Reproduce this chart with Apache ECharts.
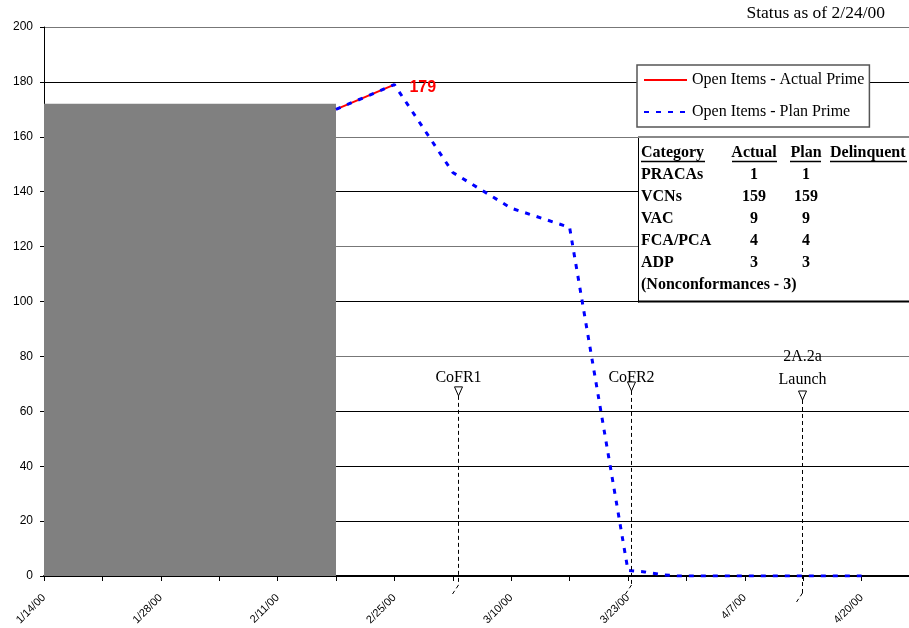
<!DOCTYPE html>
<html>
<head>
<meta charset="utf-8">
<script src="https://cdn.jsdelivr.net/npm/echarts@6/dist/echarts.min.js"></script>
<style>
  html, body { margin: 0; padding: 0; background: #fff; }
  #chart { width: 909px; height: 628px; }
</style>
</head>
<body>
<div id="chart"></div>
<script>
// Horizontal axis counts days from 1/14/00, one tick per week
const tickLabels = ['1/14/00', '', '1/28/00', '', '2/11/00', '', '2/25/00', '', '3/10/00', '', '3/23/00', '', '4/7/00', '', '4/20/00'];

// Open items, actual vs plan (day, count)
const actualDays = [35, 42];
const actualValues = [170, 179];
const planDays = [35, 42, 49, 56, 63, 70, 72, 74, 76, 98];
const planValues = [170, 179, 147, 134, 127, 2, 1.5, 0.5, 0, 0];

// Shaded history block
const shadedDays = [0, 35];
const shadedTop = 172;

// Milestones: day, marker top value, label bottom value
const milestoneNames = ['CoFR1', 'CoFR2', '2A.2a\nLaunch'];
const milestoneDays = [49.6, 70.3, 90.9];
const milestoneMarkerValues = [68.9, 70.7, 67.4];
const milestoneLabelValues = [67.9, 67.9, 67.2];
const milestoneTails = [9, 9, 17];

// Status table
const tableHeader = ['Category', 'Actual', 'Plan', 'Delinquent'];
const tableCategories = ['PRACAs', 'VCNs', 'VAC', 'FCA/PCA', 'ADP'];
const tableActual = [1, 159, 9, 4, 3];
const tablePlan = [1, 159, 9, 4, 3];
const tableNote = '(Nonconformances - 3)';
const statusText = 'Status as of 2/24/00';

const seriesActual = 'Open Items - Actual Prime';
const seriesPlan = 'Open Items - Plan Prime';

const serif = '"Liberation Serif", "Times New Roman", serif';
const sans = '"Liberation Sans", Arial, sans-serif';

// Gridline colours for 0, 20, ... 200
const gridColors = ['#000', '#000', '#000', '#000', '#777', '#000', '#777', '#000', '#777', '#000', '#777'];

const actualData = actualDays.map((d, i) => {
  const item = { value: [d, actualValues[i]] };
  if (i === actualDays.length - 1) {
    item.label = {
      show: true, position: 'right', distance: 15, offset: [0, 3],
      color: '#ff0000', fontWeight: 'bold', fontSize: 16, fontFamily: sans,
      formatter: p => String(p.value[1])
    };
  }
  return item;
});
const planData = planDays.map((d, i) => [d, planValues[i]]);
const milestoneData = milestoneDays.map((d, i) => [d, milestoneMarkerValues[i], milestoneLabelValues[i]]);

// Table graphic elements
function buildTable() {
  const els = [];
  const left = 638, top = 137.5, bottom = 301.5;
  els.push({ type: 'rect', shape: { x: left, y: top, width: 290, height: bottom - top }, style: { fill: '#fff' }, z: 100 });
  els.push({ type: 'line', shape: { x1: left + 0.5, y1: top - 1, x2: left + 0.5, y2: bottom + 1 }, style: { stroke: '#000', lineWidth: 1 }, z: 101 });
  els.push({ type: 'line', shape: { x1: left, y1: bottom, x2: 909, y2: bottom }, style: { stroke: '#000', lineWidth: 2 }, z: 101 });
  els.push({ type: 'line', shape: { x1: left, y1: top - 0.5, x2: 909, y2: top - 0.5 }, style: { stroke: '#888', lineWidth: 2 }, z: 101 });
  const font = 'bold 16px ' + serif;
  const colX = [641, 754, 806, 830];
  const colAlign = ['left', 'center', 'center', 'left'];
  const headerY = 153;
  tableHeader.forEach((t, c) => {
    els.push({ type: 'text', x: colX[c], y: headerY, style: { text: t, font, fill: '#000', align: colAlign[c], verticalAlign: 'middle' }, z: 102 });
  });
  // header underlines
  [[641, 705], [732, 777], [790, 821], [830, 907]].forEach(([a, b]) => {
    els.push({ type: 'line', shape: { x1: a, y1: 161.5, x2: b, y2: 161.5 }, style: { stroke: '#000', lineWidth: 1.5 }, z: 102 });
  });
  const rowStep = 21.9;
  tableCategories.forEach((cat, r) => {
    const y = headerY + rowStep * (r + 1);
    els.push({ type: 'text', x: colX[0], y, style: { text: cat, font, fill: '#000', align: 'left', verticalAlign: 'middle' }, z: 102 });
    els.push({ type: 'text', x: colX[1], y, style: { text: String(tableActual[r]), font, fill: '#000', align: 'center', verticalAlign: 'middle' }, z: 102 });
    els.push({ type: 'text', x: colX[2], y, style: { text: String(tablePlan[r]), font, fill: '#000', align: 'center', verticalAlign: 'middle' }, z: 102 });
  });
  els.push({ type: 'text', x: colX[0], y: headerY + rowStep * (tableCategories.length + 1), style: { text: tableNote, font, fill: '#000', align: 'left', verticalAlign: 'middle' }, z: 102 });
  els.push({ type: 'text', x: 885, y: 13, style: { text: statusText, font: '17.5px ' + serif, fill: '#000', align: 'right', verticalAlign: 'middle' }, z: 102 });
  return els;
}

const chart = echarts.init(document.getElementById('chart'), null, { renderer: 'canvas' });

chart.setOption({
  animation: false,
  backgroundColor: '#fff',
  grid: { left: 44, width: 876, top: 27, bottom: 52, containLabel: false, outerBoundsMode: 'none' },
  xAxis: {
    type: 'value', min: 0, max: 105, interval: 7,
    axisLine: { show: true, lineStyle: { color: '#000', width: 2 } },
    axisTick: { show: true, length: 5, lineStyle: { color: '#000', width: 1 } },
    axisLabel: {
      rotate: 45, fontSize: 11, fontFamily: sans, color: '#000', margin: 20,
      showMaxLabel: false,
      formatter: v => tickLabels[Math.round(v / 7)] || ''
    },
    splitLine: { show: false }
  },
  yAxis: {
    type: 'value', min: 0, max: 200, interval: 20,
    axisLine: { show: true, lineStyle: { color: '#000', width: 1 } },
    axisTick: { show: true, length: 4, lineStyle: { color: '#000' } },
    axisLabel: { fontSize: 12, fontFamily: sans, color: '#000', margin: 11 },
    splitLine: { show: true, lineStyle: { color: gridColors, width: 1 } }
  },
  legend: {
    data: [seriesActual, seriesPlan],
    orient: 'vertical', left: 637, top: 65,
    padding: [7, 5, 7, 6], itemGap: 16, itemWidth: 43, itemHeight: 14,
    backgroundColor: '#fff', borderColor: '#555', borderWidth: 1.5, borderRadius: 0,
    itemStyle: { opacity: 0 },
    textStyle: { fontFamily: serif, fontSize: 16, color: '#000' },
    z: 110
  },
  series: [
    {
      name: seriesActual, type: 'line', data: actualData,
      symbol: 'circle', symbolSize: 0, showSymbol: true, z: 3,
      lineStyle: { color: '#ff0000', width: 2 },
      itemStyle: { color: '#ff0000' },
      markArea: {
        silent: true,
        itemStyle: { color: '#808080', opacity: 1 },
        data: [[{ xAxis: shadedDays[0], yAxis: 0 }, { xAxis: shadedDays[1], yAxis: shadedTop }]]
      }
    },
    {
      name: seriesPlan, type: 'line', data: planData,
      symbol: 'none', z: 4,
      lineStyle: { color: '#0000ff', width: 3, type: [5, 7], cap: 'butt' },
      itemStyle: { color: '#0000ff' }
    },
    {
      name: 'milestones', type: 'custom', data: milestoneData, clip: false, z: 5,
      encode: { x: 0, y: 1 },
      renderItem(params, api) {
        const i = params.dataIndex;
        const x = api.value(0);
        const top = api.coord([x, api.value(1)]);
        const base = api.coord([x, 0]);
        const lab = api.coord([x, api.value(2)]);
        const cx = Math.round(top[0]) + 0.5;
        const yEnd = base[1] + milestoneTails[i];
        return {
          type: 'group',
          children: [
            { type: 'line', shape: { x1: cx, y1: top[1] + 9, x2: cx, y2: yEnd }, style: { stroke: '#000', lineWidth: 1, lineDash: [4, 3] } },
            { type: 'line', shape: { x1: cx, y1: yEnd, x2: cx - 6, y2: yEnd + 9 }, style: { stroke: '#000', lineWidth: 1, lineDash: [4, 3] } },
            { type: 'polygon', shape: { points: [[cx - 4, top[1]], [cx + 4, top[1]], [cx, top[1] + 9]] }, style: { fill: '#fff', stroke: '#000', lineWidth: 1 } },
            { type: 'text', x: cx, y: lab[1], style: { text: milestoneNames[i], fill: '#000', font: '16px ' + serif, align: 'center', verticalAlign: 'bottom', lineHeight: 23 } }
          ]
        };
      }
    }
  ],
  graphic: buildTable()
});
</script>
</body>
</html>
